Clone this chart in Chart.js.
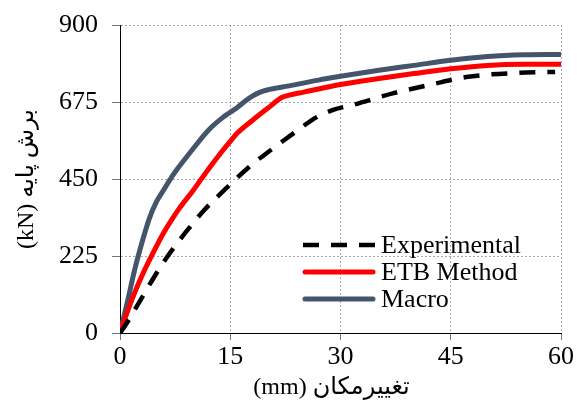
<!DOCTYPE html>
<html>
<head>
<meta charset="utf-8">
<script src="https://cdn.jsdelivr.net/npm/chart.js@4/dist/chart.umd.min.js"></script>
<style>
html,body{margin:0;padding:0;background:#fff;}
#wrap{width:577px;height:405px;position:relative;}
</style>
</head>
<body>
<div id="wrap"><canvas id="c" width="577" height="405"></canvas></div>
<script>
// ---- data ----
const xTicks = [0, 15, 30, 45, 60];
const yTicks = [0, 225, 450, 675, 900];
const seriesNames = ["Experimental", "ETB Method", "Macro"];

const expX = [0, 0.6, 2.4, 4.4, 6.5, 9.0, 11.5, 14.9, 17.6, 20.8, 23.9, 26.7, 29.0, 31.6, 37.1, 42.5, 47.1, 53.9, 59.2];
const expY = [0, 18, 82, 155, 225, 296, 360, 432, 486, 539, 588, 630, 652, 666, 700, 727, 748, 760, 763];

const etbX = [0, 1, 2, 3, 4, 5, 6, 7, 8, 10, 12, 14, 15, 16, 18, 20, 22, 23, 25, 27, 30, 35, 40, 45, 50, 55, 60];
const etbY = [0, 62, 118, 168, 213, 255, 295, 330, 362, 418, 478, 534, 560, 585, 621, 655, 688, 695, 704, 713, 726, 743, 758, 772, 782, 785, 785];

const macX = [0, 1, 2, 3, 4, 5, 6, 7, 8, 10, 12, 14, 15, 16, 17, 18, 19, 20, 23, 27, 30, 35, 40, 45, 50, 55, 60];
const macY = [0, 90, 185, 265, 335, 385, 420, 455, 485, 540, 592, 630, 645, 660, 677, 692, 703, 710, 722, 739, 750, 767, 782, 797, 808, 813, 814];

const xTitle = "(mm) تغییرمکان\u00A0\u00A0\u00A0";
const yTitle = "(kN) برش پایه";

function pts(xs, ys){ return xs.map((x,i)=>({x:x, y:ys[i]})); }

const FONT = "'Liberation Serif', 'Times New Roman', 'DejaVu Sans', serif";

const legendPlugin = {
  id: 'inLegend',
  afterDatasetsDraw(chart){
    const ctx = chart.ctx;
    const x0 = 303, x1 = 375, tx = 381;
    const ys = [245, 272, 299];
    chart.data.datasets.forEach((ds, i) => {
      const dashed = ds.borderDash && ds.borderDash.length;
      ctx.save();
      ctx.strokeStyle = ds.borderColor;
      ctx.lineWidth = ds.borderWidth;
      ctx.setLineDash(ds.borderDash || []);
      ctx.lineCap = dashed ? 'butt' : 'round';
      ctx.beginPath();
      ctx.moveTo(x0 + (dashed ? 0 : 2), ys[i]);
      ctx.lineTo(x1 - (dashed ? 0 : 2), ys[i]);
      ctx.stroke();
      ctx.setLineDash([]);
      ctx.fillStyle = '#000';
      ctx.font = "26px " + FONT;
      ctx.textBaseline = 'middle';
      ctx.textAlign = 'left';
      ctx.fillText(ds.label, tx, ys[i] + 1);
      ctx.restore();
    });
  }
};

new Chart(document.getElementById('c'), {
  type: 'line',
  data: {
    datasets: [
      { label: seriesNames[0], data: pts(expX, expY), borderColor: '#000000', borderWidth: 4.5, borderDash: [16, 12], pointRadius: 0, cubicInterpolationMode: 'monotone', fill: false },
      { label: seriesNames[1], data: pts(etbX, etbY), borderColor: '#FF0000', borderWidth: 5, pointRadius: 0, cubicInterpolationMode: 'monotone', fill: false, borderCapStyle: 'round', borderJoinStyle: 'round' },
      { label: seriesNames[2], data: pts(macX, macY), borderColor: '#44546A', borderWidth: 5, pointRadius: 0, cubicInterpolationMode: 'monotone', fill: false, borderCapStyle: 'round', borderJoinStyle: 'round' }
    ]
  },
  options: {
    responsive: false,
    animation: false,
    devicePixelRatio: 1,
    layout: { padding: { top: 25, right: 16, left: 0, bottom: 0 } },
    plugins: { legend: { display: false }, tooltip: { enabled: false } },
    scales: {
      x: {
        type: 'linear', min: 0, max: 60,
        afterBuildTicks(s){ s.ticks = xTicks.map(v=>({value:v})); },
        afterFit(s){ s.height = 72; s.paddingLeft = 0; s.paddingRight = 0; },
        ticks: { color: '#000', font: { family: FONT, size: 26 }, padding: 2, maxRotation: 0 },
        grid: { color: '#a8a8a8', lineWidth: 1, tickLength: 7, tickColor: '#777' },
        border: { display: true, color: '#000', width: 1, dash: [2, 2] },
        title: { display: true, text: xTitle, color: '#000', font: { family: FONT, size: 24 }, padding: { top: 0, bottom: 3 } }
      },
      y: {
        type: 'linear', min: 0, max: 900,
        afterBuildTicks(s){ s.ticks = yTicks.map(v=>({value:v})); },
        afterFit(s){ s.width = 120; s.paddingTop = 0; s.paddingBottom = 0; },
        ticks: { color: '#000', font: { family: FONT, size: 26 }, padding: 14 },
        grid: { color: '#a8a8a8', lineWidth: 1, tickLength: 8, tickColor: '#777' },
        border: { display: true, color: '#000', width: 1, dash: [2, 2] },
        title: { display: true, text: yTitle, color: '#000', font: { family: FONT, size: 24 }, padding: { top: 12, bottom: 0 } }
      }
    }
  },
  plugins: [legendPlugin]
});
</script>
</body>
</html>
